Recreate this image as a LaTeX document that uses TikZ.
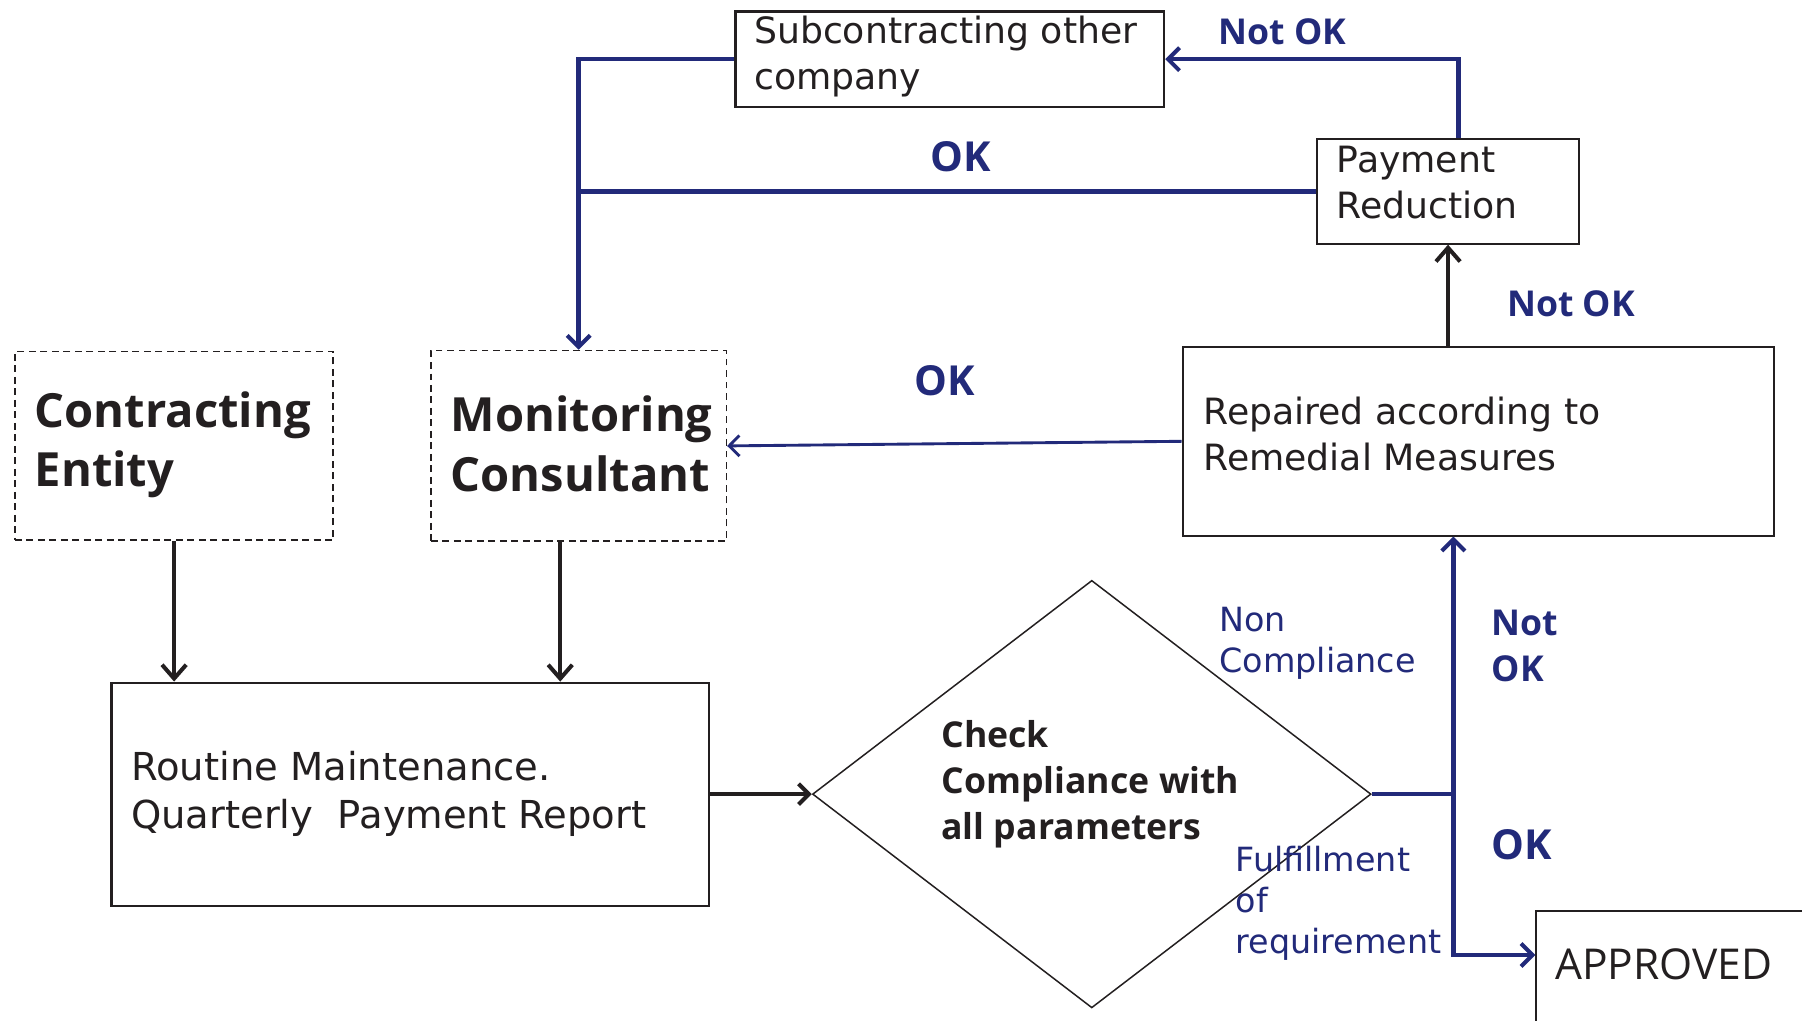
\documentclass[tikz,border=0pt]{standalone}
\usepackage{fontspec}
\setmainfont{Open Sans}
\newfontfamily\plainsans{DejaVu Sans}
\usetikzlibrary{arrows.meta,shapes.geometric}
\definecolor{navy}{RGB}{34,42,122}
\definecolor{ink}{RGB}{35,31,32}
\begin{document}
\begin{tikzpicture}[x=1pt,y=-1pt,
  box/.style={draw=ink, line width=1.8pt, inner sep=0pt, rectangle},
  dbox/.style={draw=ink, line width=1.4pt, dash pattern=on 6pt off 4pt, inner sep=0pt, rectangle},
  txt/.style={text=ink, inner sep=0pt, align=left, anchor=west},
  big/.style={font=\fontsize{41}{52}\selectfont\bfseries},
  mid/.style={font=\plainsans\fontsize{31.5}{40}\selectfont},
  lbl/.style={text=navy, inner sep=0pt, align=left, font=\fontsize{31}{40}\selectfont\bfseries},
  oklbl/.style={text=navy, inner sep=0pt, align=left, font=\fontsize{36}{40}\selectfont\bfseries},
  note/.style={text=navy, inner sep=0pt, align=left, anchor=west, font=\plainsans\fontsize{29}{36}\selectfont},
  blk/.style={draw=ink, line width=3.2pt, -{Straight Barb[length=12pt,width=21pt,line width=3.5pt]}},
  chev/.style={draw=ink, line width=3.5pt, -{Straight Barb[length=9pt,width=18pt,line width=3.5pt]}},
  flow/.style={draw=navy, line width=4pt},
  flowa/.style={flow, -{Straight Barb[length=10pt,width=20pt,line width=3.5pt]}},
  thinflow/.style={draw=navy, line width=2.5pt, -{Straight Barb[length=9pt,width=18pt,line width=2.5pt]}}]
\clip (0,0) rectangle (1568,888);
\fill[white] (0,0) rectangle (1568,888);

% boxes
\node[dbox, minimum width=277pt, minimum height=164pt] (ce) at (151.5,388) {};
\node[dbox, minimum width=257pt, minimum height=166pt] (mc) at (503.5,388) {};
\node[box, minimum width=373pt, minimum height=83pt] (sub) at (826.5,51.5) {};
\node[box, minimum width=228pt, minimum height=91pt] (pay) at (1260,166.5) {};
\node[box, minimum width=515pt, minimum height=164pt] (rep) at (1286.5,384) {};
\node[box, minimum width=520pt, minimum height=194pt] (rout) at (357,691) {};
\node[draw=ink, line width=1.3pt, diamond, inner sep=0pt, minimum width=486pt, minimum height=372pt] (dia) at (950,691) {};
\node[box, minimum width=300pt, minimum height=200pt, anchor=north west] (appr) at (1336,792) {};

% box texts
\node[txt, big] at (30,387) {Contracting\\Entity};
\node[txt, big] at (392,386) {Monitoring\\Consultant};
\node[txt, mid] at (656,49) {Subcontracting other\\company};
\node[txt, mid] at (1163,159) {Payment\\Reduction};
\node[txt, mid] at (1047,378) {Repaired according to\\Remedial Measures};
\node[txt, font=\plainsans\fontsize{33.5}{42}\selectfont] at (114,691) {Routine Maintenance.\\Quarterly\ \ Payment Report};
\node[txt, font=\fontsize{31}{40}\selectfont\bfseries] at (819,682) {Check\\Compliance with\\all parameters};
\node[txt, font=\fontsize{37}{44}\selectfont] at (1353,839) {APPROVED};

% black connectors
\draw[blk] (ce.south) -- (ce.south |- rout.north);
\draw[blk] ([xshift=-16pt]mc.south) -- ([xshift=-16pt]mc.south |- rout.north);
\draw[chev] (rout.east) -- (dia.west);
\draw[blk] (pay.south |- rep.north) -- (pay.south);

% decision branches
\coordinate (j) at ([xshift=71pt]dia.east);
\coordinate (apin) at ([yshift=-39pt]appr.north west);
\draw[flow] (dia.east) -- (j);
\draw[flowa] (j) -- (j |- rep.south);
\draw[flowa] (j) |- (apin);

% feedback loops
\draw[thinflow] (rep.west) -- (mc.east);
\draw[flowa] ([xshift=9pt]pay.north) |- (sub.east);
\draw[flowa] (sub.west) -| (mc.north);
\draw[flow] (pay.west) -- (pay.west -| mc.north);

% labels
\node[lbl] at (1116,28) {Not OK};
\node[oklbl] at (836,136) {OK};
\node[lbl] at (1367,264) {Not OK};
\node[oklbl] at (822,331) {OK};
\node[note] at (1061,560) {Non\\Compliance};
\node[lbl, anchor=west] at (1298,562) {Not\\OK};
\node[oklbl, anchor=west] at (1298,735) {OK};
\node[note] at (1075,786) {Fulfillment\\of\\requirement};
\end{tikzpicture}
\end{document}
